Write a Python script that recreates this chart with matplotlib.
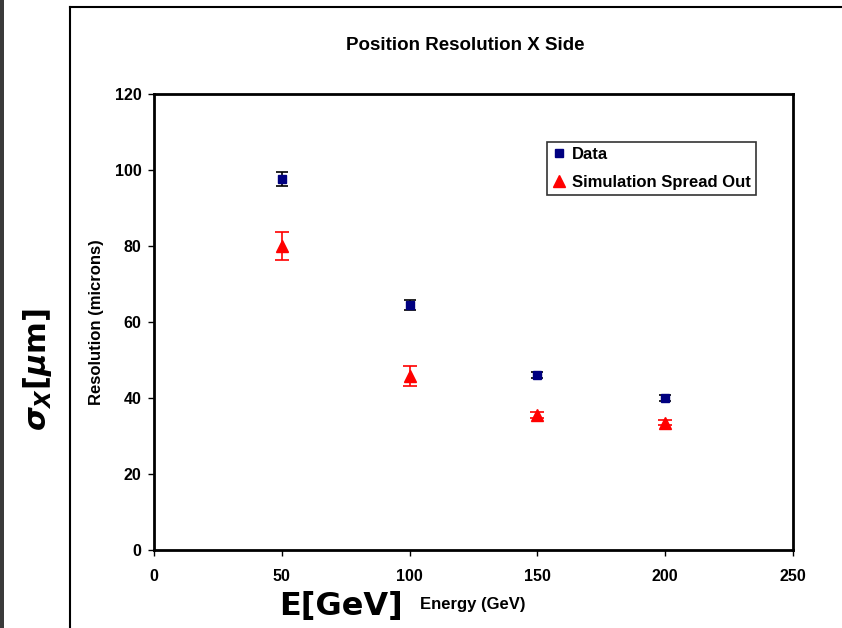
import matplotlib
matplotlib.use("Agg")
import matplotlib.pyplot as plt
from matplotlib.lines import Line2D
from matplotlib.patches import Rectangle

# Beam energies and measured / simulated position resolution (microns)
energy = [50, 100, 150, 200]
data_res = [97.6, 64.5, 46.0, 40.0]
data_err = [1.8, 1.3, 0.8, 0.8]
sim_res = [80.0, 45.7, 35.6, 33.5]
sim_err = [3.6, 2.6, 0.8, 0.6]

x_ticks = [0, 50, 100, 150, 200, 250]
y_ticks = [0, 20, 40, 60, 80, 100, 120]

plt.rcParams["font.family"] = ["Liberation Sans", "DejaVu Sans"]
plt.rcParams["font.weight"] = "bold"

fig = plt.figure(figsize=(8.42, 6.28), dpi=100)
W, H = 842, 628

# dark strip on the far left and the chart-area frame
fig.add_artist(Rectangle((0, 0), 4 / W, 1, transform=fig.transFigure,
                         facecolor="#3a3a3a", edgecolor="none"))
fig.add_artist(Line2D([70 / W, 70 / W], [0, 1 - 6.5 / H], transform=fig.transFigure,
                      color="black", lw=1.5))
fig.add_artist(Line2D([70 / W, 1], [1 - 6.5 / H, 1 - 6.5 / H], transform=fig.transFigure,
                      color="black", lw=1.5))

ax = fig.add_axes([154 / W, 1 - 550 / H, (793 - 154) / W, (550 - 94) / H])

ax.errorbar(energy, data_res, yerr=data_err, fmt="s", color="#000080",
            ecolor="black", elinewidth=1.2, capsize=4, capthick=1.2,
            markersize=6, zorder=3)
ax.errorbar(energy, sim_res, yerr=sim_err, fmt="^", color="#ff0000",
            ecolor="#ff0000", elinewidth=1.2, capsize=5, capthick=1.2,
            markersize=8, zorder=3)

ax.set_xlim(0, 250)
ax.set_ylim(0, 120)
ax.set_xticks(x_ticks)
ax.set_yticks(y_ticks)
ax.tick_params(axis="both", direction="out", length=4, width=1, labelsize=11.5)
ax.tick_params(axis="x", pad=10)
ax.tick_params(axis="y", pad=5)
for lab in ax.get_xticklabels() + ax.get_yticklabels():
    lab.set_fontweight("bold")
for sp in ax.spines.values():
    sp.set_linewidth(2)

fig.text(97 / W, 1 - 322 / H, "Resolution (microns)", rotation=90, ha="center", va="center",
         fontsize=12, fontweight="bold")
fig.text(473 / W, 1 - 605 / H, "Energy (GeV)", ha="center", va="center",
         fontsize=12, fontweight="bold")

fig.text(465 / W, 1 - 46 / H, "Position Resolution X Side", ha="center", va="center",
         fontsize=13.5, fontweight="bold")

legend_handles = [
    Line2D([], [], linestyle="none", marker="s", color="#000080", markersize=5.5),
    Line2D([], [], linestyle="none", marker="^", color="#ff0000", markersize=8),
]
leg = ax.legend(legend_handles, ["Data", "Simulation Spread Out"],
                loc="upper left",
                bbox_to_anchor=((547 - 154) / (793 - 154), (550 - 142) / (550 - 94)),
                fontsize=12, frameon=True, fancybox=False, edgecolor="black",
                handlelength=0.8, handletextpad=0.4, borderpad=0.3, labelspacing=0.8,
                borderaxespad=0)
leg.get_frame().set_linewidth(1.2)
for t in leg.get_texts():
    t.set_fontweight("bold")

# large overlay labels
fig.text(37 / W, 1 - 370 / H, r"$\sigma_X$[$\mu$m]", rotation=90, ha="center", va="center",
         fontsize=22, fontweight="bold", family=["DejaVu Sans"])
fig.text(341 / W, 1 - 606 / H, "E[GeV]", ha="center", va="center",
         fontsize=23, fontweight="bold", family=["DejaVu Sans"])

fig.savefig("out.png", dpi=100)
